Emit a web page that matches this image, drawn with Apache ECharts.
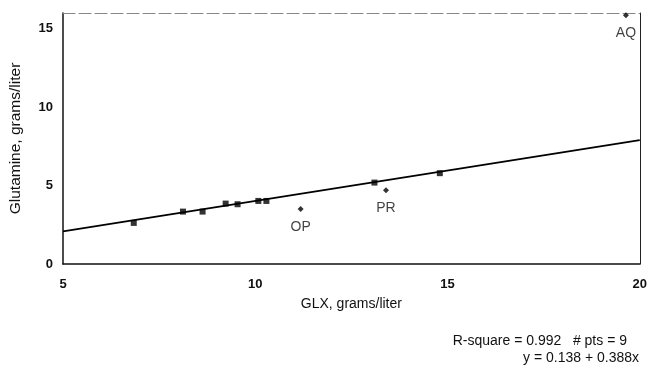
<!DOCTYPE html>
<html><head><meta charset="utf-8">
<script src="https://cdn.jsdelivr.net/npm/echarts@6/dist/echarts.min.js"></script>
<style>html,body{margin:0;padding:0;background:#fff}#c{width:650px;height:368px}</style>
</head><body><div id="c"></div>
<script>
// Fitted samples (squares)
var fitX = [6.84, 8.12, 8.63, 9.23, 9.54, 10.08, 10.29, 13.10, 14.80];
var fitY = [2.62, 3.34, 3.34, 3.85, 3.81, 4.02, 4.02, 5.19, 5.79];
// Outliers (diamonds)
var outNames = ['OP', 'PR', 'AQ'];
var outX = [11.18, 13.40, 19.64];
var outY = [3.51, 4.70, 15.86];
// Regression line endpoints
var lineX = [5, 20];
var lineY = [2.08, 7.90];
// Axis ticks
var xTicks = [5, 10, 15, 20];
var yTicks = [0, 5, 10, 15];
var statText1 = 'R-square = 0.992   # pts = 9';
var statText2 = 'y = 0.138 + 0.388x';

var F = '"Liberation Sans", Arial, sans-serif';
var chart = echarts.init(document.getElementById('c'));
chart.setOption({
  animation: false,
  backgroundColor: '#fff',
  grid: {left: 63, right: 9, top: 13, bottom: 104},
  xAxis: [{
    type: 'value', min: 5, max: 20, interval: 5,
    name: 'GLX, grams/liter', nameLocation: 'middle', nameGap: 33,
    nameTextStyle: {fontFamily: F, fontSize: 14, color: '#111'},
    axisLine: {show: true, onZero: false, lineStyle: {color: '#111', width: 1.5}},
    axisTick: {show: false}, splitLine: {show: false},
    axisLabel: {margin: 14, fontFamily: F, fontSize: 13, fontWeight: 'bold', color: '#111',
      formatter: function(v){ return xTicks.indexOf(v) >= 0 ? String(v) : ''; }}
  }, {
    type: 'value', min: 5, max: 20, position: 'top',
    axisLine: {show: true, onZero: false, lineStyle: {color: '#888', width: 1, type: [12, 4]}},
    axisTick: {show: false}, axisLabel: {show: false}, splitLine: {show: false}
  }],
  yAxis: [{
    type: 'value', min: 0, max: 16, interval: 5,
    name: 'Glutamine, grams/liter', nameLocation: 'middle', nameGap: 39,
    nameTextStyle: {fontFamily: F, fontSize: 15.5, color: '#111'},
    axisLine: {show: true, onZero: false, lineStyle: {color: '#111', width: 1.5}},
    axisTick: {show: false}, splitLine: {show: false},
    axisLabel: {margin: 10, fontFamily: F, fontSize: 13, fontWeight: 'bold', color: '#111',
      formatter: function(v){ return yTicks.indexOf(v) >= 0 ? String(v) : ''; }}
  }, {
    type: 'value', min: 0, max: 16, position: 'right',
    axisLine: {show: true, onZero: false, lineStyle: {color: '#222', width: 1}},
    axisTick: {show: false}, axisLabel: {show: false}, splitLine: {show: false}
  }],
  series: [{
    type: 'line', data: lineX.map(function(x, i){ return [x, lineY[i]]; }),
    showSymbol: false, symbol: 'none', lineStyle: {color: '#000', width: 1.8}, z: 2
  }, {
    type: 'scatter', data: fitX.map(function(x, i){ return [x, fitY[i]]; }),
    symbol: 'rect', symbolSize: 6, itemStyle: {color: '#000'}, z: 3
  }, {
    type: 'scatter', clip: false,
    data: outX.map(function(x, i){ return {name: outNames[i], value: [x, outY[i]]}; }),
    symbol: 'diamond', symbolSize: 6, itemStyle: {color: '#000'}, z: 3,
    label: {show: true, position: 'bottom', distance: 8, formatter: '{b}',
      fontFamily: F, fontSize: 14, color: '#111'}
  }],
  graphic: [{
    type: 'text', right: 23, top: 334,
    style: {text: statText1, fontFamily: F, fontSize: 14, fill: '#111'}
  }, {
    type: 'text', right: 11, top: 351,
    style: {text: statText2, fontFamily: F, fontSize: 14, fill: '#111'}
  }]
});
</script></body></html>
